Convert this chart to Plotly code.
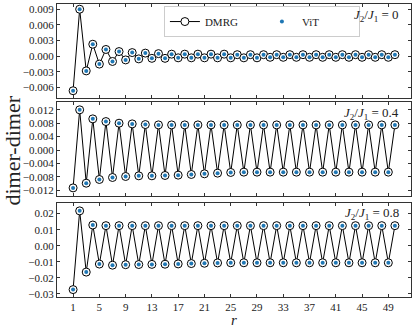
import plotly.graph_objects as go
from plotly.subplots import make_subplots

# bond distance r
r = list(range(1, 51))

# dimer-dimer correlation (DMRG)
dmrg_j0 = [-0.0066, 0.0090, -0.0028, 0.0023, -0.0015, 0.0013, -0.0010, 0.0009, -0.0007, 0.0007,
           -0.0005, 0.0006, -0.0004, 0.0005, -0.0004, 0.0004, -0.0003, 0.0004, -0.0003, 0.0004,
           -0.0003, 0.0004, -0.0003, 0.0004, -0.0003, 0.0003, -0.0003, 0.0003, -0.0003, 0.0003,
           -0.0002, 0.0003, -0.0002, 0.0003, -0.0002, 0.0003, -0.0002, 0.0003, -0.0002, 0.0003,
           -0.0002, 0.0003, -0.0002, 0.0003, -0.0002, 0.0003, -0.0002, 0.0003, -0.0002, 0.0003]

dmrg_j04 = [-0.0113, 0.0120, -0.0099, 0.0093, -0.0088, 0.0085, -0.0082, 0.0080, -0.0079, 0.0078,
            -0.0077, 0.0076, -0.0077, 0.0075, -0.0076, 0.0075, -0.0075, 0.0075, -0.0073, 0.0075,
            -0.0071, 0.0075, -0.0069, 0.0075, -0.0067, 0.0075, -0.0066, 0.0075, -0.0066, 0.0075,
            -0.0066, 0.0075, -0.0066, 0.0075, -0.0066, 0.0075, -0.0066, 0.0075, -0.0066, 0.0075,
            -0.0066, 0.0075, -0.0066, 0.0075, -0.0066, 0.0075, -0.0066, 0.0075, -0.0066, 0.0075]

dmrg_j08 = [-0.0273, 0.0217, -0.0164, 0.0129, -0.0114, 0.0125, -0.0121, 0.0125, -0.0118, 0.0125,
            -0.0117, 0.0125, -0.0116, 0.0125, -0.0115, 0.0125, -0.0113, 0.0125, -0.0111, 0.0125,
            -0.0109, 0.0125, -0.0107, 0.0125, -0.0106, 0.0125, -0.0106, 0.0125, -0.0106, 0.0125,
            -0.0106, 0.0125, -0.0106, 0.0125, -0.0106, 0.0125, -0.0106, 0.0125, -0.0106, 0.0125,
            -0.0106, 0.0125, -0.0106, 0.0125, -0.0106, 0.0125, -0.0106, 0.0125, -0.0106, 0.0125]

# ViT points sit on top of the DMRG ones
vit_j0 = list(dmrg_j0)
vit_j04 = list(dmrg_j04)
vit_j08 = list(dmrg_j08)

panel_labels = ["0", "0.4", "0.8"]

xtick_vals = list(range(1, 50, 4))

ytick_vals = [
    [0.009, 0.006, 0.003, 0.0, -0.003, -0.006],
    [0.012, 0.008, 0.004, 0.0, -0.004, -0.008, -0.012],
    [0.02, 0.01, 0.0, -0.01, -0.02, -0.03],
]
ytick_fmt = ["{:.3f}", "{:.3f}", "{:.2f}"]
y_ranges = [[-0.0080, 0.0100], [-0.0137, 0.0142], [-0.0319, 0.0269]]
domains = [[0.679, 1.0], [0.345, 0.664], [0.0, 0.3225]]
label_y = [0.962, 0.627, 0.286]

FONT = "Liberation Serif"
AXCOL = "#333333"

fig = make_subplots(rows=3, cols=1, shared_xaxes=True)

dmrg_sets = [dmrg_j0, dmrg_j04, dmrg_j08]
vit_sets = [vit_j0, vit_j04, vit_j08]

for i in range(3):
    fig.add_trace(go.Scatter(
        x=r, y=dmrg_sets[i], mode="lines+markers", name="DMRG",
        line=dict(color="black", width=1),
        marker=dict(symbol="circle", size=8, color="white",
                    line=dict(color="black", width=1)),
        showlegend=(i == 0)), row=i + 1, col=1)
    fig.add_trace(go.Scatter(
        x=r, y=vit_sets[i], mode="markers", name="ViT",
        marker=dict(symbol="circle", size=4, color="#1f77b4"),
        showlegend=(i == 0)), row=i + 1, col=1)

for i in range(3):
    n = "" if i == 0 else str(i + 1)
    tt = []
    for v in ytick_vals[i]:
        s = ytick_fmt[i].format(abs(v))
        tt.append(("\u2212" + s) if v < 0 else s)
    fig.layout["yaxis" + n].update(
        domain=domains[i], range=y_ranges[i], automargin=False,
        tickvals=ytick_vals[i], ticktext=tt,
        ticks="inside", ticklen=3, tickcolor=AXCOL, mirror="ticks",
        showline=True, linecolor=AXCOL, linewidth=1,
        showgrid=False, zeroline=False,
        tickfont=dict(family=FONT, size=11, color="#222"))
    fig.layout["xaxis" + n].update(
        range=[-1.45, 52.45], tickvals=xtick_vals, automargin=False,
        ticks="inside", ticklen=3, tickcolor=AXCOL, mirror="ticks",
        showline=True, linecolor=AXCOL, linewidth=1,
        showgrid=False, zeroline=False, showticklabels=(i == 2),
        tickfont=dict(family=FONT, size=11, color="#222"))
    fig.add_annotation(
        text="<i>J</i><sub>2</sub>/<i>J</i><sub>1</sub> = " + panel_labels[i],
        xref="paper", yref="paper", x=0.972, y=label_y[i],
        xanchor="right", yanchor="middle", showarrow=False,
        font=dict(family=FONT, size=13, color="#222"))

fig.add_annotation(text="dimer-dimer", textangle=-90,
                   xref="paper", yref="paper", x=-0.127, y=0.50,
                   xanchor="center", yanchor="middle", showarrow=False,
                   font=dict(family=FONT, size=22, color="#222"))
fig.add_annotation(text="<i>r</i>", xref="paper", yref="paper",
                   x=0.5, y=-0.078, xanchor="center", yanchor="middle",
                   showarrow=False, font=dict(family=FONT, size=15, color="#222"))

fig.update_layout(
    template="none",
    width=415, height=329,
    margin=dict(l=57, r=4, t=4, b=32),
    paper_bgcolor="white", plot_bgcolor="white",
    legend=dict(orientation="h", x=0.302, y=0.993, xanchor="left", yanchor="top",
                bgcolor="white", bordercolor="#cccccc", borderwidth=1,
                entrywidth=52, font=dict(family=FONT, size=11, color="#222")),
)

# drop the page's default 8px body margin so the figure sits at the corner
fig.write_html("out.html", config={"displayModeBar": False},
               post_script="document.body.style.margin='0';")
